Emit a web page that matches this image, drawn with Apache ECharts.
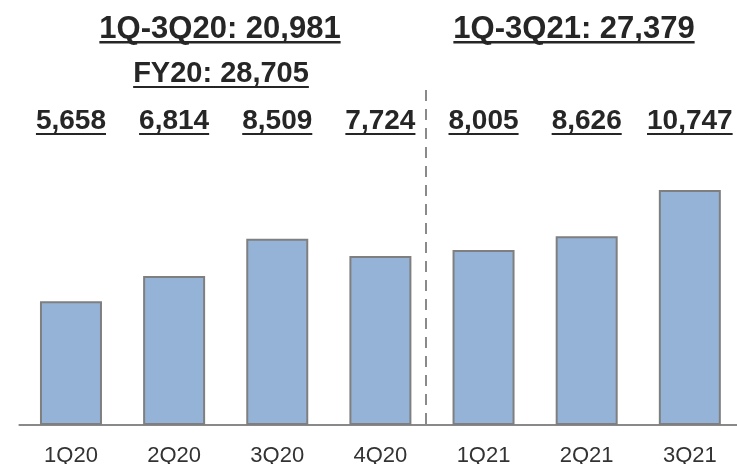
<!DOCTYPE html>
<html>
<head>
<meta charset="utf-8">
<script src="https://cdn.jsdelivr.net/npm/echarts@6/dist/echarts.min.js"></script>
<style>
  html, body { margin: 0; padding: 0; background: #ffffff; }
  #chart { width: 737px; height: 464px; }
</style>
</head>
<body>
<div id="chart"></div>
<script>
// Quarterly figures
const quarters = ['1Q20', '2Q20', '3Q20', '4Q20', '1Q21', '2Q21', '3Q21'];
const revenue = [5658, 6814, 8509, 7724, 8005, 8626, 10747];
// Period totals shown above the quarterly values
const periodTotals = ['1Q-3Q20: 20,981', 'FY20: 28,705', '1Q-3Q21: 27,379'];

const FONT = "'Liberation Sans', Arial, Helvetica, sans-serif";
const INK = '#262626';

// Solid strip along the bottom of a text box, used as an underline
function underline(frac) {
  return {
    type: 'linear', x: 0, y: 0, x2: 0, y2: 1,
    colorStops: [
      { offset: 0, color: 'rgba(0,0,0,0)' },
      { offset: frac, color: 'rgba(0,0,0,0)' },
      { offset: frac, color: INK },
      { offset: 1, color: INK }
    ]
  };
}

function headerText(text, x, y, size) {
  return {
    type: 'text',
    x: x, y: y,
    silent: true,
    style: {
      text: text,
      font: 'bold ' + size + 'px ' + FONT,
      fill: INK,
      align: 'center',
      verticalAlign: 'middle',
      lineHeight: 26,
      padding: [0, 0, 2, 0],
      backgroundColor: underline(26 / 28)
    }
  };
}

const chart = echarts.init(document.getElementById('chart'), null, { renderer: 'canvas' });

chart.setOption({
  animation: false,
  backgroundColor: '#ffffff',
  grid: { left: 19.4, width: 722, top: 75, bottom: 39, containLabel: false, outerBoundsMode: 'none' },
  xAxis: {
    type: 'category',
    data: quarters,
    axisLine: { lineStyle: { color: '#898989', width: 2 } },
    axisTick: { show: false },
    axisLabel: { color: '#333333', fontSize: 22, fontFamily: FONT, margin: 20 }
  },
  yAxis: {
    type: 'value',
    min: 0,
    max: 16000,
    show: false,
    splitLine: { show: false }
  },
  graphic: [
    headerText(periodTotals[0], 220, 29.5, 31),
    headerText(periodTotals[1], 221, 74, 29),
    headerText(periodTotals[2], 574, 29.5, 31),
    {
      type: 'line',
      silent: true,
      shape: { x1: 426, y1: 424, x2: 426, y2: 83 },
      style: { stroke: '#8a8a8a', lineWidth: 2, lineDash: [11, 8] }
    }
  ],
  series: [{
    type: 'bar',
    data: revenue,
    barWidth: 62,
    itemStyle: { color: '#95B3D7', borderColor: '#7f7f7f', borderWidth: 2 },
    label: {
      show: true,
      position: 'top',
      formatter: function (p) { return p.value.toLocaleString('en-US'); },
      color: INK,
      fontSize: 28,
      fontWeight: 'bold',
      fontFamily: FONT,
      lineHeight: 26,
      padding: [0, 0, 2, 0],
      backgroundColor: underline(26 / 28)
    },
    labelLayout: function (p) {
      return {
        x: p.rect.x + p.rect.width / 2,
        y: 121,
        align: 'center',
        verticalAlign: 'middle'
      };
    }
  }]
});
</script>
</body>
</html>
